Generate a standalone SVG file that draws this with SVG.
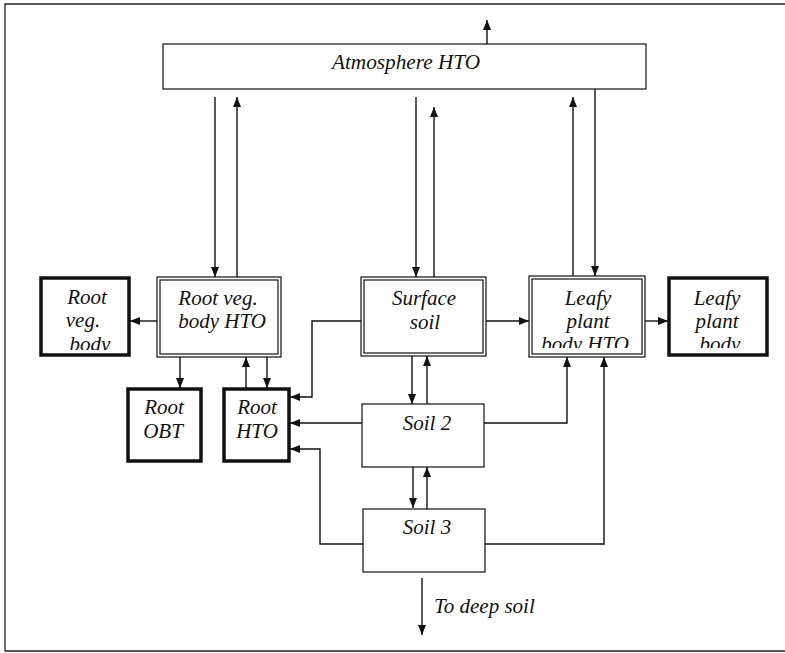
<svg xmlns="http://www.w3.org/2000/svg" width="785" height="653" viewBox="0 0 785 653">
<style>
text{font-family:"Liberation Serif","Times New Roman",serif;font-style:italic;font-size:21px;fill:#111;text-anchor:middle}
.thin{fill:#fff;stroke:#222;stroke-width:1.3}
.dbl{fill:none;stroke:#222;stroke-width:1.3}
.thick{fill:#fff;stroke:#111;stroke-width:3.5}
.c{fill:none;stroke:#111;stroke-width:1.3}
.a{fill:none;stroke:#111;stroke-width:1.4;marker-end:url(#ah)}
</style>
<defs>
<marker id="ah" markerUnits="userSpaceOnUse" markerWidth="11" markerHeight="9" refX="10" refY="4" orient="auto">
<path d="M0,0 L10,4 L0,8 z" fill="#111"/>
</marker>
<clipPath id="clipRVB"><rect x="40" y="277" width="90" height="73"/></clipPath>
<clipPath id="clipLHTO"><rect x="529" y="276" width="116" height="72"/></clipPath>
<clipPath id="clipLB"><rect x="668" y="277" width="99" height="71"/></clipPath>
</defs>
<rect width="785" height="653" fill="#fff"/>
<path d="M785,4 H5 V651 H785" fill="none" stroke="#222" stroke-width="1.3"/>

<g id="atmosphere">
<rect class="thin" x="163" y="44" width="483" height="45"/>
<text x="406" y="69" textLength="148" lengthAdjust="spacingAndGlyphs">Atmosphere HTO</text>
</g>

<g id="root-veg-body">
<rect class="thick" x="41" y="278" width="88" height="77"/>
<g clip-path="url(#clipRVB)">
<text x="87" y="304">Root</text>
<text x="83" y="327">veg.</text>
<text x="90" y="351">body</text>
</g>
</g>

<g id="root-veg-body-hto">
<rect class="dbl" x="157" y="277" width="124" height="80"/>
<rect class="dbl" x="160" y="280" width="118" height="74"/>
<text x="218" y="305">Root veg.</text>
<text x="222" y="328">body HTO</text>
</g>

<g id="surface-soil">
<rect class="dbl" x="361" y="277" width="125" height="79"/>
<rect class="dbl" x="364" y="280" width="119" height="73"/>
<text x="424" y="305">Surface</text>
<text x="425" y="329">soil</text>
</g>

<g id="leafy-plant-body-hto">
<rect class="dbl" x="529" y="276" width="116" height="81"/>
<rect class="dbl" x="532" y="279" width="110" height="75"/>
<g clip-path="url(#clipLHTO)">
<text x="588" y="305">Leafy</text>
<text x="588" y="328">plant</text>
<text x="585" y="351">body HTO</text>
</g>
</g>

<g id="leafy-plant-body">
<rect class="thick" x="669" y="278" width="98" height="77"/>
<g clip-path="url(#clipLB)">
<text x="717" y="305">Leafy</text>
<text x="717" y="328">plant</text>
<text x="720" y="351">body</text>
</g>
</g>

<g id="root-obt">
<rect class="thick" x="128" y="389" width="73" height="72"/>
<text x="164" y="414">Root</text>
<text x="163" y="438">OBT</text>
</g>

<g id="root-hto">
<rect class="thick" x="224" y="389" width="65" height="72"/>
<text x="257" y="414">Root</text>
<text x="257" y="438">HTO</text>
</g>

<g id="soil-2">
<rect class="thin" x="362" y="404" width="122" height="63"/>
<text x="427" y="430">Soil 2</text>
</g>

<g id="soil-3">
<rect class="thin" x="363" y="509" width="122" height="63"/>
<text x="427" y="534">Soil 3</text>
</g>

<g id="deep-soil-label">
<text x="434" y="613" style="text-anchor:start">To deep soil</text>
</g>

<g id="connectors">
<path class="a" d="M487,44 V20"/>
<path class="a" d="M215,97 V277"/>
<path class="a" d="M237,277 V97"/>
<path class="a" d="M416,97 V277"/>
<path class="a" d="M434,277 V107"/>
<path class="a" d="M573,276 V97"/>
<path class="a" d="M595,89 V276"/>
<path class="a" d="M157,321 H130"/>
<path class="a" d="M486,321 H529"/>
<path class="a" d="M645,321 H668"/>
<path class="a" d="M180,357 V388"/>
<path class="a" d="M246,388 V357"/>
<path class="a" d="M267,357 V388"/>
<path class="a" d="M412,356 V404"/>
<path class="a" d="M427,404 V356"/>
<path class="a" d="M413,467 V508"/>
<path class="a" d="M427,509 V467"/>
<path class="a" d="M361,321 H312 V397 H290"/>
<path class="a" d="M362,423 H290"/>
<path class="a" d="M363,544 H320 V449 H290"/>
<path class="a" d="M484,423 H567 V357"/>
<path class="a" d="M485,544 H604 V357"/>
<path class="a" d="M422,578 V635"/>
</g>
</svg>
